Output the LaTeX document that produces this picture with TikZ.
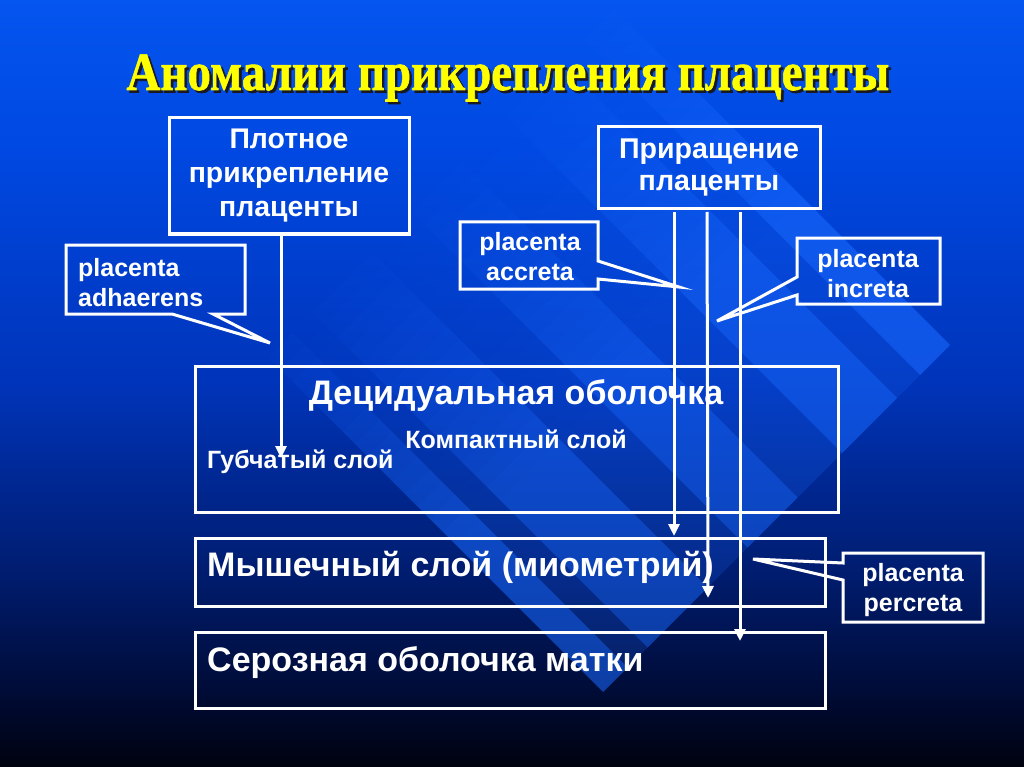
\documentclass[tikz,border=0pt]{standalone}
\usepackage{fontspec}
\usepackage{graphicx}
\setmainfont{Liberation Sans}
\newfontfamily\titlefont{Liberation Serif Bold}[FakeBold=1.2]
\usetikzlibrary{arrows.meta}
\definecolor{bgA}{RGB}{0,2,15}
\definecolor{bgB}{RGB}{0,12,55}
\definecolor{bgC}{RGB}{0,28,110}
\definecolor{bgD}{RGB}{0,52,185}
\definecolor{bgE}{RGB}{0,72,225}
\definecolor{bgF}{RGB}{5,85,240}
\definecolor{titleyellow}{RGB}{255,255,0}
\definecolor{titleshadow}{RGB}{25,25,35}
\definecolor{stripe}{RGB}{25,105,255}
\pgfdeclareverticalshading{bgshade}{100bp}{color(0bp)=(bgA); color(25bp)=(bgA); color(30bp)=(bgB); color(37.5bp)=(bgC); color(50bp)=(bgD); color(65bp)=(bgE); color(75bp)=(bgF); color(100bp)=(bgF)}
\tikzset{
  frame/.style={draw=white, line width=3pt},
  txt/.style={text=white, font=\bfseries, inner sep=0pt},
  arr/.style={draw=white, line width=3pt, -{Triangle[length=12pt,width=11pt]}},
  band/.style={fill=stripe}
}
\newcommand{\bandpoly}[3]{% c_hi c_lo opacity
  \foreach \s in {600,625,...,975}{%
    \pgfmathsetmacro{\op}{#3*(\s+12.5-600)/400}%
    \pgfmathsetmacro{\t}{\s+25}%
    \fill[band, fill opacity=\op] ({(\s+#1)/2},{(\s-#1)/2}) -- ({(\t+#1)/2},{(\t-#1)/2}) -- ({(\t+#2)/2},{(\t-#2)/2}) -- ({(\s+#2)/2},{(\s-#2)/2}) -- cycle;
  }%
  \fill[band, fill opacity=#3] ({(1000+#1)/2},{(1000-#1)/2}) -- ({(1295+#1)/2},{(1295-#1)/2}) -- ({(1295+#2)/2},{(1295-#2)/2}) -- ({(1000+#2)/2},{(1000-#2)/2}) -- cycle;}
\newcommand{\titletext}{Аномалии прикрепления плаценты}
\begin{document}
\begin{tikzpicture}[x=1pt,y=-1pt]
\useasboundingbox (0,0) rectangle (1024,767);
\shade[shading=bgshade] (0,0) rectangle (1024,767);
% diagonal light bands
\begin{scope}
\clip (0,0) rectangle (1024,767);
\bandpoly{605}{545}{0.6}
\bandpoly{545}{499}{0.2}
\bandpoly{499}{389}{0.55}
\bandpoly{389}{300}{0.22}
\bandpoly{300}{200}{0.5}
\bandpoly{200}{120}{0.2}
\bandpoly{120}{0}{0.5}
\bandpoly{0}{-40}{0.2}
\bandpoly{-40}{-89}{0.55}
\end{scope}
% title with shadow
\node[inner sep=0pt, anchor=base, text=titleyellow] (title) at (508,90) {\titlefont\fontsize{54}{60}\selectfont\resizebox{763pt}{\height}{\rlap{\kern3pt\raisebox{-2.5pt}{\color{titleshadow}\titletext}}\titletext}};
% top boxes
\draw[frame] (169,118) rectangle (409,234);
\node[txt, align=center, font=\bfseries\fontsize{28.4}{34}\selectfont] (plot) at (289,176) {Плотное\\прикрепление\\плаценты};
\coordinate (plotbot) at (281,236);
\draw[frame] (598,127) rectangle (820,209);
\node[txt, align=center, font=\bfseries\fontsize{28.6}{32}\selectfont] (prir) at (709,168) {Приращение\\плаценты};
% layer boxes
\draw[frame] (195,366) rectangle (838,512);
\draw[frame] (195,538) rectangle (825,606);
\draw[frame] (195,632) rectangle (825,708);
\node[txt, anchor=base, font=\bfseries\fontsize{34}{38}\selectfont] (dec) at (516,404) {Децидуальная оболочка};
\node[txt, anchor=base, font=\bfseries\fontsize{25}{30}\selectfont] (comp) at (516,448) {Компактный слой};
\node[txt, anchor=base west, font=\bfseries\fontsize{25}{30}\selectfont] (gub) at (207,468) {Губчатый слой};
\node[txt, anchor=base west, font=\bfseries\fontsize{34}{38}\selectfont] (mio) at (207,576) {Мышечный слой (миометрий)};
\node[txt, anchor=base west, font=\bfseries\fontsize{34}{38}\selectfont] (ser) at (207,671) {Серозная оболочка матки};
% callouts
\draw[frame, line join=miter] (66,245) -- (245,245) -- (245,314) -- (213,314) -- (270,343) -- (172,314) -- (66,314) -- cycle;
\node[txt, align=left, anchor=west, font=\bfseries\fontsize{25}{30}\selectfont] (adh) at (78,283) {placenta\\adhaerens};
\draw[frame, line join=miter] (460,222) -- (598,222) -- (598,261) -- (679,287) -- (598,279) -- (598,289) -- (460,289) -- cycle;
\node[txt, align=center, font=\bfseries\fontsize{25}{30}\selectfont] (acc) at (530,257) {placenta\\accreta};
\draw[frame, line join=miter] (797,238) -- (940,238) -- (940,304) -- (797,304) -- (797,295) -- (717,321) -- (797,277) -- cycle;
\node[txt, align=center, font=\bfseries\fontsize{25}{30}\selectfont] (inc) at (868,274) {placenta\\increta};
\draw[frame, line join=miter] (843,553) -- (983,553) -- (983,622) -- (843,622) -- (843,580) -- (753,559) -- (843,563) -- cycle;
\node[txt, align=center, font=\bfseries\fontsize{25}{30}\selectfont] (perc) at (913,590) {placenta\\percreta};
% arrows
\coordinate (g1) at (281,458);
\draw[arr] (plotbot) -- (g1);
\coordinate (p1) at (674,212);
\coordinate (p2) at (707,212);
\coordinate (p3) at (740,212);
\coordinate (q1) at (674,536);
\coordinate (q2) at (708,598);
\coordinate (q3) at (740,641);
\draw[arr] (p1) -- (q1);
\draw[arr] (p2) -- (q2);
\draw[arr] (p3) -- (q3);
\end{tikzpicture}
\end{document}
